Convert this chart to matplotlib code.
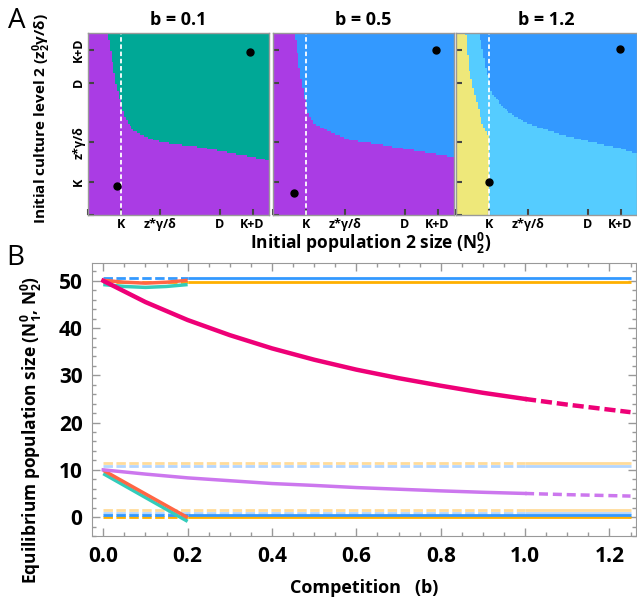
import numpy as np
import matplotlib
matplotlib.use('Agg')
import matplotlib.pyplot as plt
from matplotlib.colors import ListedColormap
from matplotlib.ticker import MultipleLocator

plt.rcParams['font.family'] = ['Open Sans', 'DejaVu Sans']
plt.rcParams['font.weight'] = 'bold'
plt.rcParams['mathtext.default'] = 'regular'

# ---- panel A: basins of attraction ----
b_values = [0.1, 0.5, 1.2]
tick_pos = [0, 10, 22, 40, 50]
tick_names = ['', 'K', 'z*γ/δ', 'D', 'K+D']
region_colors = ['#AA3CE4', '#00A896', '#3399FF', '#55CCFF', '#EEE87A']

# boundary curves (x = N2, y = z2)
bnd1_x = [6.0, 8.5, 9.7, 11.2, 13.6, 17.8, 21.8, 33.8, 43.8, 55]
bnd1_y = [55, 39.9, 34.8, 29.6, 25.7, 23.6, 22.1, 20.5, 18.7, 16.6]
bnd2_x = [6.6, 8.2, 10.3, 12.1, 18.1, 23.3, 33.2, 42.3, 55]
bnd2_y = [55, 42.9, 31.7, 27.8, 24.8, 22.7, 21.2, 19.6, 17.5]
bnd3_x = [7.0, 9.1, 10.9, 15.2, 21.2, 30.3, 38.2, 48.5, 55]
bnd3_y = [55, 44.7, 36.9, 31.7, 27.8, 24.8, 22.7, 20.5, 18.5]
yel_x = [10, 10, 7.9, 6.1, 3.9, 3.0]
yel_y = [0, 23.6, 27.8, 34.8, 44.7, 55]

low_x = [8.7, 6.4, 10.0]
low_y = [8.8, 6.7, 10.0]
high_x = [49.2, 49.5, 49.9]
high_y = [49.3, 49.9, 50.1]
K_line = 10

# ---- panel B: equilibria vs competition ----
b_curve = [0.0, 0.1, 0.2, 0.3, 0.4, 0.5, 0.6, 0.7, 0.8, 0.9, 1.0]
magenta_y = [50, 45.5, 41.7, 38.5, 35.7, 33.3, 31.2, 29.4, 27.8, 26.3, 25.0]
purple_y = [10, 9.1, 8.3, 7.7, 7.1, 6.7, 6.25, 5.9, 5.55, 5.25, 5.0]
b_tail = [1.0, 1.1, 1.25]
magenta_tail = [25.0, 23.8, 22.2]
purple_tail = [5.0, 4.75, 4.45]

b_dip = [0.0, 0.05, 0.1, 0.15, 0.2]
red_dip = [50.1, 49.7, 49.5, 49.7, 50.1]
teal_dip = [49.2, 48.8, 48.6, 48.8, 49.2]
b_drop = [0.0, 0.2]
red_drop = [9.9, -0.1]
teal_drop = [9.2, -0.9]

blue_hi, orange_hi = 50.6, 49.8
blue_lo, orange_lo = 0.5, 0.0
lorange_a, lblue_a = 11.4, 10.8
lorange_b, lblue_b = 1.4, 0.9

W, H = 637, 604
fig = plt.figure(figsize=(W / 100, H / 100), dpi=100)

n = 100
xc = (np.arange(n) + 0.5) * 55 / n
X, Y = np.meshgrid(xc, xc)
reg1 = np.where(Y > np.interp(X, bnd1_x, bnd1_y), 1, 0)
reg2 = np.where(Y > np.interp(X, bnd2_x, bnd2_y), 2, 0)
reg3 = np.where(Y > np.interp(X, bnd3_x, bnd3_y), 2, 3)
reg3[X < np.interp(Y, yel_y, yel_x)] = 4
regions = [reg1, reg2, reg3]

cmap = ListedColormap(region_colors)
lefts = [88, 273, 456]
for i in range(3):
    ax = fig.add_axes([lefts[i] / W, 1 - 215 / H, 181 / W, 182 / H])
    ax.imshow(regions[i], cmap=cmap, vmin=-0.5, vmax=4.5, origin='lower',
              extent=(0, 55, 0, 55), interpolation='nearest', aspect='auto')
    ax.axvline(K_line, color='white', lw=1.3, dashes=(2.5, 1.5))
    ax.plot([low_x[i], high_x[i]], [low_y[i], high_y[i]], 'o', color='black',
            ms=5, ls='none')
    ax.set_xlim(0, 55)
    ax.set_ylim(0, 55)
    ax.set_xticks(tick_pos)
    ax.set_xticklabels(tick_names)
    ax.set_yticks(tick_pos)
    if i == 0:
        ax.set_yticklabels(tick_names, rotation=90, va='center')
    else:
        ax.set_yticklabels([])
    ax.tick_params(direction='in', length=4, width=1.5, color='#444444',
                   labelsize=9, pad=2)
    for s in ax.spines.values():
        s.set_color('#999999')
        s.set_linewidth(1.0)
    ax.set_title('b = %s' % b_values[i], fontsize=13, fontweight='bold', pad=6)

fig.text(42 / W, 1 - 119 / H, 'Initial culture level 2 (z$_2^0$γ/δ)',
         rotation=90, ha='center', va='center', fontsize=11, fontweight='bold')
fig.text(371 / W, 1 - 243 / H, 'Initial population 2 size (N$_2^0$)',
         ha='center', va='center', fontsize=12.5, fontweight='bold')
fig.text(8 / W, 1 - 7 / H, 'A', fontsize=20, fontweight='normal', va='top')
fig.text(6 / W, 1 - 244 / H, 'B', fontsize=20, fontweight='normal', va='top')
fig.text(31 / W, 1 - 430 / H, 'Equilibrium population size (N$_1^0$, N$_2^0$)',
         rotation=90, ha='center', va='center', fontsize=12.5, fontweight='bold')

# panel B
ax = fig.add_axes([92.3 / W, 1 - 536 / H, 543.7 / W, 272.7 / H])
dash = (3.4, 1.25)
lw_thin = 2.0


def seg(x, y, c, lw, dashed=False, z=2):
    if dashed:
        ax.plot(x, y, color=c, lw=lw, dashes=dash, zorder=z,
                solid_capstyle='butt', dash_capstyle='butt')
    else:
        ax.plot(x, y, color=c, lw=lw, zorder=z, solid_capstyle='butt')


for yo, yb in [(lorange_a, lblue_a), (lorange_b, lblue_b)]:
    seg([0, 1.0], [yo, yo], '#FFDC9A', lw_thin, True)
    seg([1.0, 1.25], [yo, yo], '#FFDC9A', lw_thin)
    seg([0, 1.0], [yb, yb], '#B3D6FF', lw_thin, True)
    seg([1.0, 1.25], [yb, yb], '#B3D6FF', lw_thin)

for yb, yo in [(blue_hi, orange_hi), (blue_lo, orange_lo)]:
    seg([0, 0.2], [yo, yo], '#FFB000', lw_thin, True, 3)
    seg([0.2, 1.25], [yo, yo], '#FFB000', lw_thin, False, 3)
    seg([0, 0.2], [yb, yb], '#3399FF', lw_thin, True, 3)
    seg([0.2, 1.25], [yb, yb], '#3399FF', lw_thin, False, 3)

seg(b_dip, teal_dip, '#33CCBB', 2.5, False, 4)
seg(b_dip, red_dip, '#FF6644', 2.5, False, 4)
seg(b_drop, teal_drop, '#33CCBB', 2.5, False, 4)
seg(b_drop, red_drop, '#FF6644', 2.5, False, 4)

ax.plot(b_curve, purple_y, color='#CC77EE', lw=2.5, zorder=5)
ax.plot(b_tail, purple_tail, color='#CC77EE', lw=2.5, dashes=(2.6, 1.4), zorder=5)
ax.plot(b_curve, magenta_y, color='#EE0077', lw=3.2, zorder=6)
ax.plot(b_tail, magenta_tail, color='#EE0077', lw=3.2, dashes=(2.5, 1.1), zorder=6)

ax.set_xlim(-0.026, 1.263)
ax.set_ylim(-4, 53.7)
ax.xaxis.set_major_locator(MultipleLocator(0.2))
ax.xaxis.set_minor_locator(MultipleLocator(0.05))
ax.yaxis.set_major_locator(MultipleLocator(10))
ax.yaxis.set_minor_locator(MultipleLocator(2))
ax.xaxis.set_major_formatter(plt.FuncFormatter(lambda v, p: '%.1f' % v))
ax.tick_params(which='both', direction='in', top=True, right=True,
               color='#999999', labelsize=15, pad=7)
ax.tick_params(which='major', length=6, width=1)
ax.tick_params(which='minor', length=3, width=1)
for s in ax.spines.values():
    s.set_color('#999999')
ax.set_xlabel('Competition   (b)', fontsize=13, fontweight='bold', labelpad=9)

fig.savefig('out.png', dpi=100)
